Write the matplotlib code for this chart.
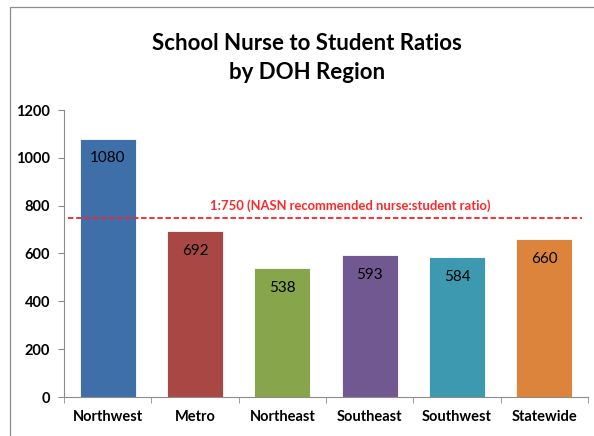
"""School nurse to student ratios by DOH region -> out.png"""
import matplotlib
matplotlib.use("Agg")
from matplotlib import pyplot as plt
from matplotlib.patches import Rectangle

regions = ["Northwest", "Metro", "Northeast", "Southeast", "Southwest", "Statewide"]
ratios = [1080, 692, 538, 593, 584, 660]
bar_colors = ["#3E6FA9", "#A84744", "#87A54B", "#725891", "#3D99B0", "#DC843B"]
recommended = 750
recommended_label = "1:750 (NASN recommended nurse:student ratio)"
y_ticks = [0, 200, 400, 600, 800, 1000, 1200]

plt.rcParams["font.family"] = ["Lato", "DejaVu Sans"]

fig = plt.figure(figsize=(5.94, 4.36), dpi=100)
ax = fig.add_axes([64 / 594, 1 - 397 / 436, 524 / 594, 287 / 436])

x = range(len(regions))
bars = ax.bar(x, ratios, width=0.64, color=bar_colors,
              edgecolor="white", linewidth=0.6)

for xi, v in zip(x, ratios):
    ax.annotate(str(v), (xi, v), xytext=(0, -14), textcoords="offset points",
                ha="center", va="center", fontsize=11, color="black")

# recommended ratio line
ax.axhline(recommended, xmin=0.008, xmax=0.988, color="#FF2020",
           linestyle=(0, (3, 1.5)), linewidth=1.3)
ax.text(2.78, recommended + 52, recommended_label, ha="center", va="center",
        color="#FF2828", fontsize=9.4, fontweight="bold")

ax.set_ylim(0, 1200)
ax.set_xlim(-0.5, len(regions) - 0.5)
ax.set_yticks(y_ticks)
ax.set_yticklabels([str(t) for t in y_ticks], fontsize=10.5, fontweight="bold")
ax.set_xticks(list(x))
ax.set_xticklabels(regions, fontsize=10.5, fontweight="bold")
ax.tick_params(axis="x", length=0, pad=9)
ax.tick_params(axis="y", length=4, color="#8C8C8C", pad=6)
# category separators on the x axis
ax.set_xticks([i - 0.5 for i in range(len(regions) + 1)], minor=True)
ax.tick_params(axis="x", which="minor", length=4, color="#8C8C8C")

for side in ["top", "right"]:
    ax.spines[side].set_visible(False)
for side in ["left", "bottom"]:
    ax.spines[side].set_color("#8C8C8C")
    ax.spines[side].set_linewidth(0.8)

fig.text(307 / 594, 1 - 58 / 436, "School Nurse to Student Ratios\nby DOH Region",
         ha="center", va="center", fontsize=16, fontweight="bold",
         linespacing=1.45)

# outer chart border
fig.patches.append(Rectangle((10 / 594, -0.1), 1.2, 1.1 - 7 / 436,
                             transform=fig.transFigure, fill=False,
                             edgecolor="#8C8C8C", linewidth=0.9))

fig.savefig("out.png", dpi=100)
